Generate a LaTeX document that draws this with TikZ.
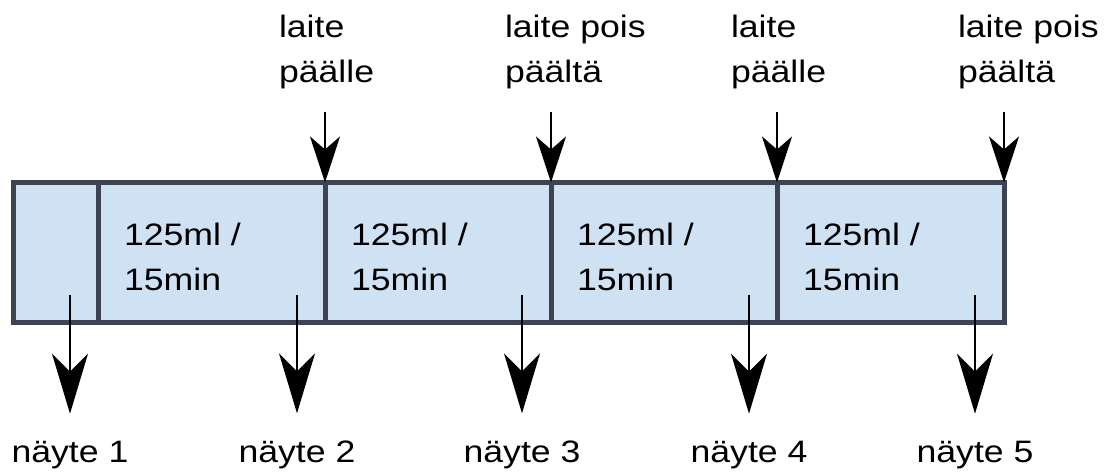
\documentclass[tikz,border=0pt]{standalone}
\usepackage{fontspec}
\setmainfont{Liberation Sans}[FakeStretch=1.15]
\usetikzlibrary{arrows.meta}
\definecolor{segfill}{HTML}{CFE2F3}
\definecolor{segline}{HTML}{3D4350}
\begin{document}
\begin{tikzpicture}[x=1pt,y=-1pt,
  seg/.style={draw=segline, fill=segfill, line width=5pt, rectangle,
    minimum height=140pt, outer sep=0pt, inner sep=0pt},
  txt/.style={inner sep=0pt, outer sep=0pt, font=\fontsize{31}{45}\selectfont,
    align=left, text=black},
  downtop/.style={line width=2pt, -{Stealth[length=46pt,width=30pt,inset=13pt]}},
  downbot/.style={line width=2pt, -{Stealth[length=60pt,width=36pt,inset=18pt]}, shorten >=27pt}
]
\useasboundingbox (0,0) rectangle (1112,472);

% timeline segments
\node[seg, minimum width=84.5pt]  (s1) at (55.75,252.5) {};
\node[seg, minimum width=227pt]   (s2) at (211.5,252.5) {};
\node[seg, minimum width=226pt]   (s3) at (438,252.5) {};
\node[seg, minimum width=226pt]   (s4) at (664,252.5) {};
\node[seg, minimum width=227pt]   (s5) at (890.5,252.5) {};

% flow rate in each segment (anchored on the last line's baseline)
\node[txt, anchor=base west] (r2) at (124,290) {125ml /\\15min};
\node[txt, anchor=base west] (r3) at (351,290) {125ml /\\15min};
\node[txt, anchor=base west] (r4) at (577,290) {125ml /\\15min};
\node[txt, anchor=base west] (r5) at (803,290) {125ml /\\15min};

% device on / off events
\node[txt, anchor=base west] (e1) at (279,82) {laite\\päälle};
\node[txt, anchor=base west] (e2) at (505,82) {laite pois\\päältä};
\node[txt, anchor=base west] (e3) at (731,82) {laite\\päälle};
\node[txt, anchor=base west] (e4) at (958,82) {laite pois\\päältä};

\coordinate (t1) at (325,112);
\coordinate (t2) at (551,112);
\coordinate (t3) at (777,112);
\coordinate (t4) at (1004,112);
\draw[downtop] (t1) -- (s2.north east);
\draw[downtop] (t2) -- (s3.north east);
\draw[downtop] (t3) -- (s4.north east);
\draw[downtop] (t4) -- (s5.north east);

% samples
\node[txt, anchor=base] (n1) at (70,462)  {näyte 1};
\node[txt, anchor=base] (n2) at (297,462) {näyte 2};
\node[txt, anchor=base] (n3) at (522,462) {näyte 3};
\node[txt, anchor=base] (n4) at (749,462) {näyte 4};
\node[txt, anchor=base] (n5) at (975,462) {näyte 5};

\coordinate (b1) at (70,295);
\coordinate (b2) at (297,295);
\coordinate (b3) at (522,295);
\coordinate (b4) at (749,295);
\coordinate (b5) at (975,295);
\draw[downbot] (b1) -- (b1 |- n1.north);
\draw[downbot] (b2) -- (b2 |- n2.north);
\draw[downbot] (b3) -- (b3 |- n3.north);
\draw[downbot] (b4) -- (b4 |- n4.north);
\draw[downbot] (b5) -- (b5 |- n5.north);
\end{tikzpicture}
\end{document}
